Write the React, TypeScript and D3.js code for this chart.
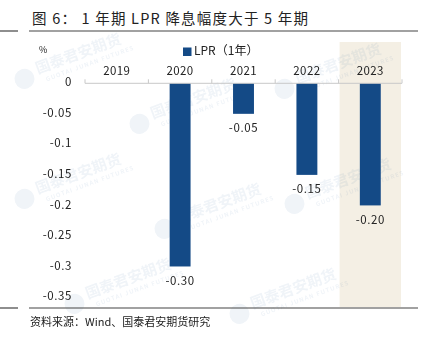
import React from "react";
import * as d3 from "d3";

const categories = ["2019", "2020", "2021", "2022", "2023"];
const values: (number | null)[] = [null, -0.3, -0.05, -0.15, -0.2];
const valueLabels = ["", "-0.30", "-0.05", "-0.15", "-0.20"];
const yTicks = [0, -0.05, -0.1, -0.15, -0.2, -0.25, -0.3, -0.35];
const yTickLabels = ["0", "-0.05", "-0.1", "-0.15", "-0.2", "-0.25", "-0.3", "-0.35"];
const highlightCategory = "2023";
const seriesName = "LPR（1年）";
const title = "图 6：  1 年期 LPR 降息幅度大于 5 年期";
const source = "资料来源：Wind、国泰君安期货研究";

const W = 427;
const H = 352;
const FONT = "'Noto Sans CJK SC', 'Noto Sans', sans-serif";
const BAR = "#144a86";

const watermarks = [
  { x: 45, y: 65 },
  { x: 160, y: 110 },
  { x: 305, y: 75 },
  { x: 45, y: 185 },
  { x: 185, y: 215 },
  { x: 315, y: 190 },
  { x: 95, y: 290 },
  { x: 260, y: 300 },
];

export default function App() {
  const x = d3.scaleBand<string>().domain(categories).range([85, 402]).padding(0);
  const y = d3.scaleLinear().domain([-0.35, 0]).range([297, 83.3]);
  const bw = x.bandwidth() * 0.33;
  const hx = x(highlightCategory)!;

  return (
    <svg
      width={W}
      height={H}
      style={{ position: "absolute", left: 0, top: 0, background: "#fff" }}
      fontFamily={FONT}
    >
      <rect width={W} height={H} fill="#fff" />
      {/* title */}
      <text x={32} y={24} fontSize={14.5} fill="#222" letterSpacing={1.2}>
        {title}
      </text>
      <line x1={0} x2={18} y1={31} y2={31} stroke="#444" strokeWidth={1.2} />
      <line x1={29} x2={418} y1={31} y2={31} stroke="#444" strokeWidth={1.2} />

      {/* highlight */}
      <rect x={hx + 1} y={42} width={x.bandwidth() - 2} height={265} fill="#f4efe4" />

      {/* watermarks */}
      <g opacity={0.07} fill="#1f5a9a">
        {watermarks.map((w, i) => (
          <g key={i} transform={`translate(${w.x},${w.y}) rotate(-20)`}>
            <circle cx={-24} cy={6} r={10} />
            <text x={-10} y={6} fontSize={15} fontWeight="bold">
              国泰君安期货
            </text>
            <text x={-4} y={16} fontSize={6} fontWeight="bold" letterSpacing={1}>
              GUOTAI JUNAN FUTURES
            </text>
          </g>
        ))}
      </g>

      {/* legend */}
      <rect x={183} y={47.5} width={8.5} height={8.5} fill={BAR} />
      <text x={194} y={52} fontSize={12} fill="#222" dominantBaseline="middle">
        {seriesName}
      </text>
      <text x={39} y={53} fontSize={9} fill="#222">
        %
      </text>

      {/* y axis labels */}
      {yTicks.map((t, i) => (
        <text
          key={t}
          x={72}
          y={y(t)}
          fontSize={11.5}
          fill="#222"
          textAnchor="end"
          dominantBaseline="middle"
          letterSpacing={0.6}
        >
          {yTickLabels[i]}
        </text>
      ))}

      {/* bars */}
      {categories.map((c, i) => {
        const v = values[i];
        if (v == null) return null;
        const cx = x(c)! + x.bandwidth() / 2;
        return (
          <g key={c}>
            <rect x={cx - bw / 2} y={y(0)} width={bw} height={y(v) - y(0)} fill={BAR} />
            <text
              x={cx}
              y={y(v) + 15}
              fontSize={11.5}
              fill="#222"
              textAnchor="middle"
              dominantBaseline="middle"
              letterSpacing={0.6}
            >
              {valueLabels[i]}
            </text>
          </g>
        );
      })}

      {/* x axis */}
      <line x1={85} x2={402} y1={y(0)} y2={y(0)} stroke="#c8c8c8" strokeWidth={1} />
      {[...categories.map((c) => x(c)!), 402].map((px, i) => (
        <line key={i} x1={px} x2={px} y1={y(0)} y2={y(0) - 4} stroke="#c8c8c8" />
      ))}
      {categories.map((c) => (
        <text
          key={c}
          x={x(c)! + x.bandwidth() / 2}
          y={72}
          fontSize={11.5}
          fill="#222"
          textAnchor="middle"
          dominantBaseline="middle"
          letterSpacing={0.4}
        >
          {c}
        </text>
      ))}

      {/* footer */}
      <line x1={0} x2={18} y1={308} y2={308} stroke="#444" strokeWidth={1.2} />
      <line x1={29} x2={418} y1={308} y2={308} stroke="#444" strokeWidth={1.2} />
      <text x={30} y={323} fontSize={11} fill="#222" dominantBaseline="middle">
        {source}
      </text>
    </svg>
  );
}
